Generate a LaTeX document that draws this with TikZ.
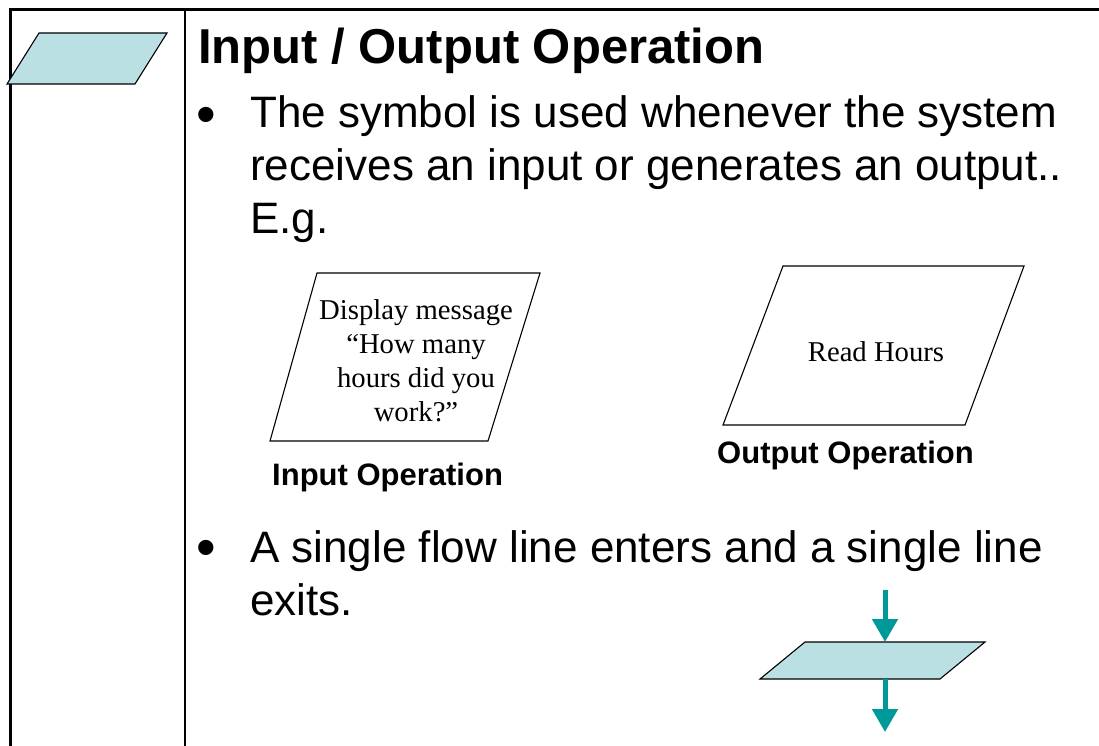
\documentclass[tikz,border=0pt]{standalone}
\usepackage{fontspec}
\setmainfont{Liberation Sans}
\newfontfamily\serifface{Liberation Serif}
\usepackage{tikz}
\usetikzlibrary{arrows.meta,positioning}
\usepackage{xcolor}
\definecolor{iofill}{RGB}{187,224,227}
\definecolor{flowteal}{RGB}{0,153,153}

\begin{document}
\begin{tikzpicture}[
  x=1pt, y=-1pt,
  frame/.style={black, line width=3pt},
  divider/.style={black, line width=2pt},
  io/.style={draw=black, line width=1.1pt},
  io_fill/.style={io, fill=iofill},
  title_text/.style={anchor=base west, inner sep=0pt, font=\fontsize{49}{58}\bfseries\selectfont},
  body_text/.style={anchor=base west, inner sep=0pt, align=left, font=\fontsize{44}{52.5}\selectfont},
  bullet_node/.style={anchor=base west, inner sep=0pt, font=\fontsize{56}{60}\selectfont},
  shape_text/.style={inner sep=0pt, align=center, font=\fontsize{28.7}{34}\serifface\selectfont},
  caption/.style={anchor=base west, inner sep=0pt, font=\fontsize{31}{37}\bfseries\selectfont},
  flow/.style={flowteal, line width=5pt, -{Triangle[width=25pt,length=23pt]}}
]
\useasboundingbox (0,0) rectangle (1099,746);

% Column x-positions
\def\xLeft{10}
\def\xDiv{185}
\def\xText{250}

% Slide frame
\draw[frame] (8.5,10) -- (1099,10);
\draw[frame] (\xLeft,10) -- (\xLeft,746);
\draw[divider] (\xDiv,10) -- (\xDiv,746);

% Symbol in the left column
\draw[io_fill] (39,33) -- (167,33) -- (135,84) -- (7,84) -- cycle;

% Heading and first bullet (base anchor sits on the last line)
\node[title_text] (title) at (198,64) {Input / Output Operation};
\node[bullet_node] (dot1) at (196,134) {\textbullet};
\node[body_text] (para1) at (\xText,233) {The symbol is used whenever the system\\receives an input or generates an output..\\E.g.};

% Input example
\draw[io] (317,273) -- (540,273) -- (488,441) -- (270,441) -- cycle;
\node[shape_text] (inText) at (416,361) {Display message\\“How many\\hours did you\\work?”};
\node[caption] (inCap) at (272,485) {Input Operation};

% Output example
\draw[io] (783,266) -- (1024,266) -- (965,425) -- (723,425) -- cycle;
\node[shape_text] (outText) at (876,352) {Read Hours};
\node[caption] (outCap) at (717,463) {Output Operation};

% Second bullet
\node[bullet_node] (dot2) at (196,566) {\textbullet};
\node[body_text] (para2) at (\xText,615) {A single flow line enters and a single line\\exits.};

% Flow line through the symbol
\draw[io_fill] (805,642) -- (985,642) -- (940,679) -- (760,679) -- cycle;
\coordinate (flowIn) at (885,590);
\coordinate (ioTop) at (885,642);
\coordinate (ioBottom) at (885,679);
\coordinate (flowOut) at (885,732);
\draw[flow] (flowIn) -- (ioTop);
\draw[flow] (ioBottom) -- (flowOut);

\end{tikzpicture}
\end{document}
